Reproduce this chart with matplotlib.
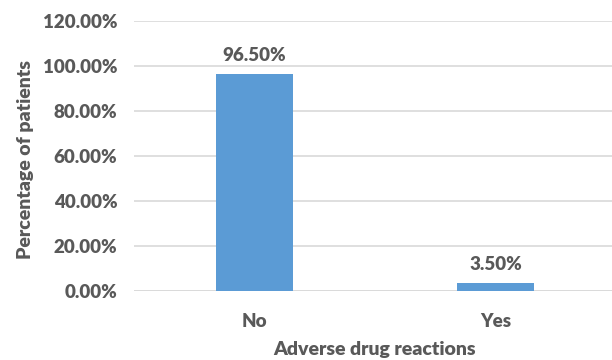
import matplotlib
matplotlib.use("Agg")
import matplotlib.pyplot as plt
from matplotlib.ticker import FuncFormatter

# Share of patients with / without adverse drug reactions
categories = ["No", "Yes"]
percentages = [96.50, 3.50]
yticks = [0, 20, 40, 60, 80, 100, 120]

text_color = "#595959"
bar_color = "#5B9BD5"
grid_color = "#D9D9D9"

plt.rcParams["font.family"] = ["Lato", "DejaVu Sans"]

fig = plt.figure(figsize=(6.12, 3.6), dpi=100)
ax = fig.add_axes([134 / 612, 1 - 291 / 360, (616 - 134) / 612, (291 - 21) / 360])

x = range(len(categories))
bars = ax.bar(x, percentages, width=0.32, color=bar_color, zorder=2)

# value labels above each bar
for rect, val in zip(bars, percentages):
    ax.text(rect.get_x() + rect.get_width() / 2, val + 4.5, f"{val:.2f}%",
            ha="center", va="bottom", fontsize=13.5, fontweight="heavy",
            color=text_color)

ax.set_xlim(-0.5, 1.5)
ax.set_ylim(0, 120)
ax.set_yticks(yticks)
ax.yaxis.set_major_formatter(FuncFormatter(lambda v, p: f"{v:.2f}%"))
ax.set_xticks(list(x))
ax.set_xticklabels(categories)

ax.grid(axis="y", color=grid_color, linewidth=1.2, zorder=0)
ax.set_axisbelow(True)
for side in ["top", "right", "left", "bottom"]:
    ax.spines[side].set_visible(False)
ax.axhline(0, color=grid_color, linewidth=1.2, zorder=1)

ax.tick_params(axis="both", length=0, labelsize=13.5, colors=text_color)
ax.tick_params(axis="y", pad=12)
ax.tick_params(axis="x", pad=16)
for lbl in ax.get_xticklabels() + ax.get_yticklabels():
    lbl.set_fontweight("heavy")

# axis titles
fig.text(26 / 612, 1 - 160 / 360, "Percentage of patients", rotation=90,
         ha="center", va="center", fontsize=14, fontweight="heavy",
         color=text_color)
fig.text(374 / 612, 1 - 349 / 360, "Adverse drug reactions", ha="center",
         va="center", fontsize=14, fontweight="heavy", color=text_color)

fig.savefig("out.png", dpi=100, facecolor="white")
